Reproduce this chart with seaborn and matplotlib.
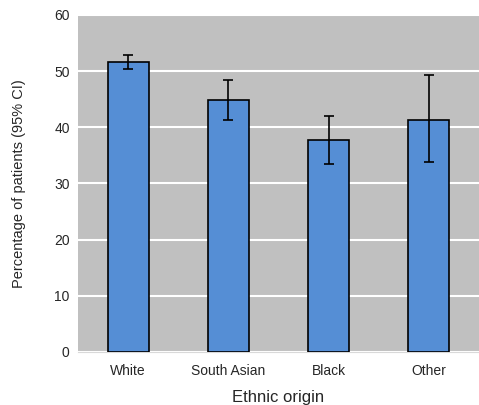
import numpy as np
import pandas as pd
import matplotlib
matplotlib.use('Agg')
import matplotlib.pyplot as plt
import seaborn as sns

# values
groups = ['White', 'South Asian', 'Black', 'Other']
percent = [51.6, 44.9, 37.7, 41.3]
ci_low = [50.4, 41.3, 33.5, 33.8]
ci_high = [52.9, 48.4, 42.0, 49.3]

df = pd.DataFrame({'group': groups, 'percent': percent})

sns.set_style('white')
plt.rcParams['font.family'] = ['Liberation Sans', 'DejaVu Sans']

fig = plt.figure(figsize=(4.79, 4.05), dpi=100)
ax = fig.add_axes([0.163, 0.131, 0.837, 0.832])
ax.set_facecolor('#c0c0c0')

sns.barplot(data=df, x='group', y='percent', color='#558ed5', width=0.41,
            edgecolor='black', linewidth=1.2, saturation=1, ax=ax, zorder=3)

pos = np.arange(len(groups))
yerr = [np.array(percent) - np.array(ci_low), np.array(ci_high) - np.array(percent)]
ax.errorbar(pos, percent, yerr=yerr, fmt='none', ecolor='black', elinewidth=1.2,
            capsize=3.5, capthick=1.2, zorder=4)

ax.set_xlim(-0.5, len(groups) - 0.5)
ax.set_ylim(0, 60)
ax.set_yticks(range(0, 61, 10))
ax.yaxis.grid(True, color='white', linewidth=1.5, zorder=0)
ax.set_axisbelow(True)
for s in ['top', 'right', 'left']:
    ax.spines[s].set_visible(False)
ax.spines['bottom'].set_color('#d9d9d9')
ax.tick_params(axis='both', length=0, labelsize=10, pad=6)
ax.tick_params(axis='x', pad=9)
ax.set_xlabel('Ethnic origin', fontsize=12, labelpad=8)
ax.set_ylabel('Percentage of patients (95% CI)', fontsize=10.5, labelpad=20)

fig.savefig('out.png', dpi=100)
